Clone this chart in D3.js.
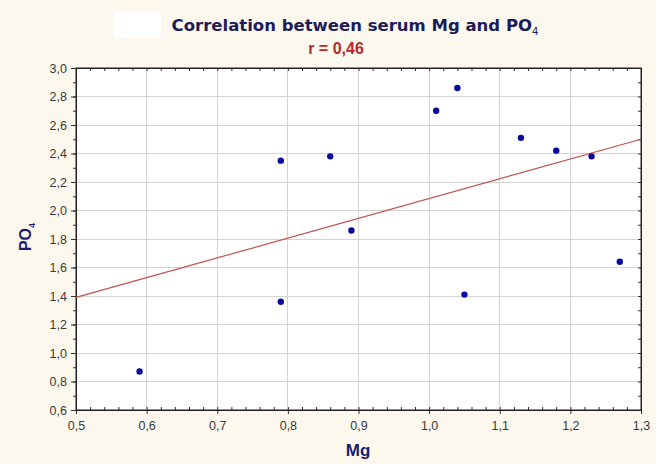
<!DOCTYPE html>
<html><head><meta charset="utf-8">
<script src="https://cdn.jsdelivr.net/npm/d3@7"></script>
<style>body{margin:0;background:#fcf8ee;}svg{display:block;}</style>
</head><body>
<script>
const mgValues  = [0.59, 0.79, 0.79, 0.86, 0.89, 1.01, 1.04, 1.05, 1.13, 1.18, 1.23, 1.27];
const po4Values = [0.87, 2.35, 1.36, 2.38, 1.86, 2.70, 2.86, 1.41, 2.51, 2.42, 2.38, 1.64];
const xTicks = [0.5, 0.6, 0.7, 0.8, 0.9, 1.0, 1.1, 1.2, 1.3];
const yTicks = [0.6, 0.8, 1.0, 1.2, 1.4, 1.6, 1.8, 2.0, 2.2, 2.4, 2.6, 2.8, 3.0];
const fitLineX = [0.5, 1.3];
const fitLineY = [1.39, 2.50];
const rText = "r = 0,46";

const W = 656, H = 464;
const m = {l: 76, r: 15, t: 68, b: 54};
const svg = d3.select("body").append("svg").attr("width", W).attr("height", H);
svg.append("rect").attr("width", W).attr("height", H).attr("fill", "#fcf8ee");
svg.append("rect").attr("x", 114).attr("y", 12).attr("width", 47).attr("height", 26).attr("fill", "#ffffff");

const x = d3.scaleLinear().domain([0.5, 1.3]).range([m.l, W - m.r]);
const y = d3.scaleLinear().domain([0.6, 3.0]).range([H - m.b, m.t]);
const fmt = d => d3.format(".1f")(d).replace(".", ",");

svg.append("rect").attr("x", m.l).attr("y", m.t).attr("width", x(1.3) - m.l).attr("height", y(0.6) - m.t).attr("fill", "#fff");

// grid
svg.append("g").selectAll("line").data(xTicks.slice(1, -1)).join("line")
  .attr("x1", d => x(d)).attr("x2", d => x(d)).attr("y1", m.t).attr("y2", y(0.6))
  .attr("stroke", "#d4d4d4").attr("stroke-width", 1).attr("shape-rendering", "crispEdges");
svg.append("g").selectAll("line").data(yTicks.slice(1, -1)).join("line")
  .attr("y1", d => y(d)).attr("y2", d => y(d)).attr("x1", m.l).attr("x2", x(1.3))
  .attr("stroke", "#d4d4d4").attr("stroke-width", 1).attr("shape-rendering", "crispEdges");

// axes
const xMinor = d3.range(0.5, 1.3001, 0.02);
const yMinor = d3.range(0.6, 3.0001, 0.1);
const gx = svg.append("g").attr("transform", `translate(0,${y(0.6)})`)
  .call(d3.axisBottom(x).tickValues(xTicks).tickFormat(fmt).tickSize(4).tickSizeOuter(0));
svg.append("g").attr("transform", `translate(0,${y(0.6)})`)
  .call(d3.axisBottom(x).tickValues(xMinor).tickFormat("").tickSize(-3).tickSizeOuter(0));
svg.append("g").attr("transform", `translate(0,${m.t})`)
  .call(d3.axisTop(x).tickValues(xMinor).tickFormat("").tickSize(-3).tickSizeOuter(0));
const gy = svg.append("g").attr("transform", `translate(${m.l},0)`)
  .call(d3.axisLeft(y).tickValues(yTicks).tickFormat(fmt).tickSize(5).tickSizeOuter(0));
svg.append("g").attr("transform", `translate(${m.l},0)`)
  .call(d3.axisLeft(y).tickValues(yMinor).tickFormat("").tickSize(3).tickSizeOuter(0));
svg.append("g").attr("transform", `translate(${x(1.3)},0)`)
  .call(d3.axisRight(y).tickValues(yMinor).tickFormat("").tickSize(-3).tickSizeOuter(0));
svg.selectAll(".domain").attr("stroke", "#222");
svg.selectAll(".tick line").attr("stroke", "#333");
[gx, gy].forEach(g => g.selectAll("text").attr("font-family", "Liberation Sans, Arial, sans-serif")
  .attr("font-size", 12.5).attr("fill", "#3a3a3a"));
gx.selectAll("text").attr("dy", "1.05em");
gy.selectAll("text").attr("dx", "-1");
svg.append("rect").attr("x", m.l).attr("y", m.t).attr("width", x(1.3) - m.l).attr("height", y(0.6) - m.t)
  .attr("fill", "none").attr("stroke", "#222").attr("stroke-width", 1);

// fit line
svg.append("line").attr("x1", x(fitLineX[0])).attr("y1", y(fitLineY[0]))
  .attr("x2", x(fitLineX[1])).attr("y2", y(fitLineY[1]))
  .attr("stroke", "#c0504d").attr("stroke-width", 1.2);

// points
svg.append("g").selectAll("circle").data(mgValues.map((d, i) => [d, po4Values[i]])).join("circle")
  .attr("cx", d => x(d[0])).attr("cy", d => y(d[1])).attr("r", 3.2).attr("fill", "#0a0a9a");

// titles
const t = svg.append("text").attr("x", 355).attr("y", 31).attr("text-anchor", "middle")
  .attr("font-family", "DejaVu Sans, sans-serif").attr("font-size", 16.5).attr("font-weight", "bold").attr("fill", "#1c1c5a");
t.append("tspan").text("Correlation between serum Mg and PO");
t.append("tspan").attr("font-size", 10).attr("font-weight", "normal").attr("dy", 4).text("4");
svg.append("text").attr("x", 336).attr("y", 54).attr("text-anchor", "middle")
  .attr("font-family", "Liberation Sans, Arial, sans-serif").attr("font-size", 16).attr("font-weight", "bold")
  .attr("fill", "#b52a2a").text(rText);
svg.append("text").attr("x", 358).attr("y", 456).attr("text-anchor", "middle")
  .attr("font-family", "Liberation Sans, Arial, sans-serif").attr("font-size", 17).attr("font-weight", "bold")
  .attr("fill", "#1c1c6e").text("Mg");
const yl = svg.append("text").attr("transform", "translate(31,237) rotate(-90)").attr("text-anchor", "middle")
  .attr("font-family", "Liberation Sans, Arial, sans-serif").attr("font-size", 16).attr("font-weight", "bold")
  .attr("fill", "#1c1c6e");
yl.append("tspan").text("PO");
yl.append("tspan").attr("font-size", 9).attr("dy", 4).text("4");
</script>
</body></html>
